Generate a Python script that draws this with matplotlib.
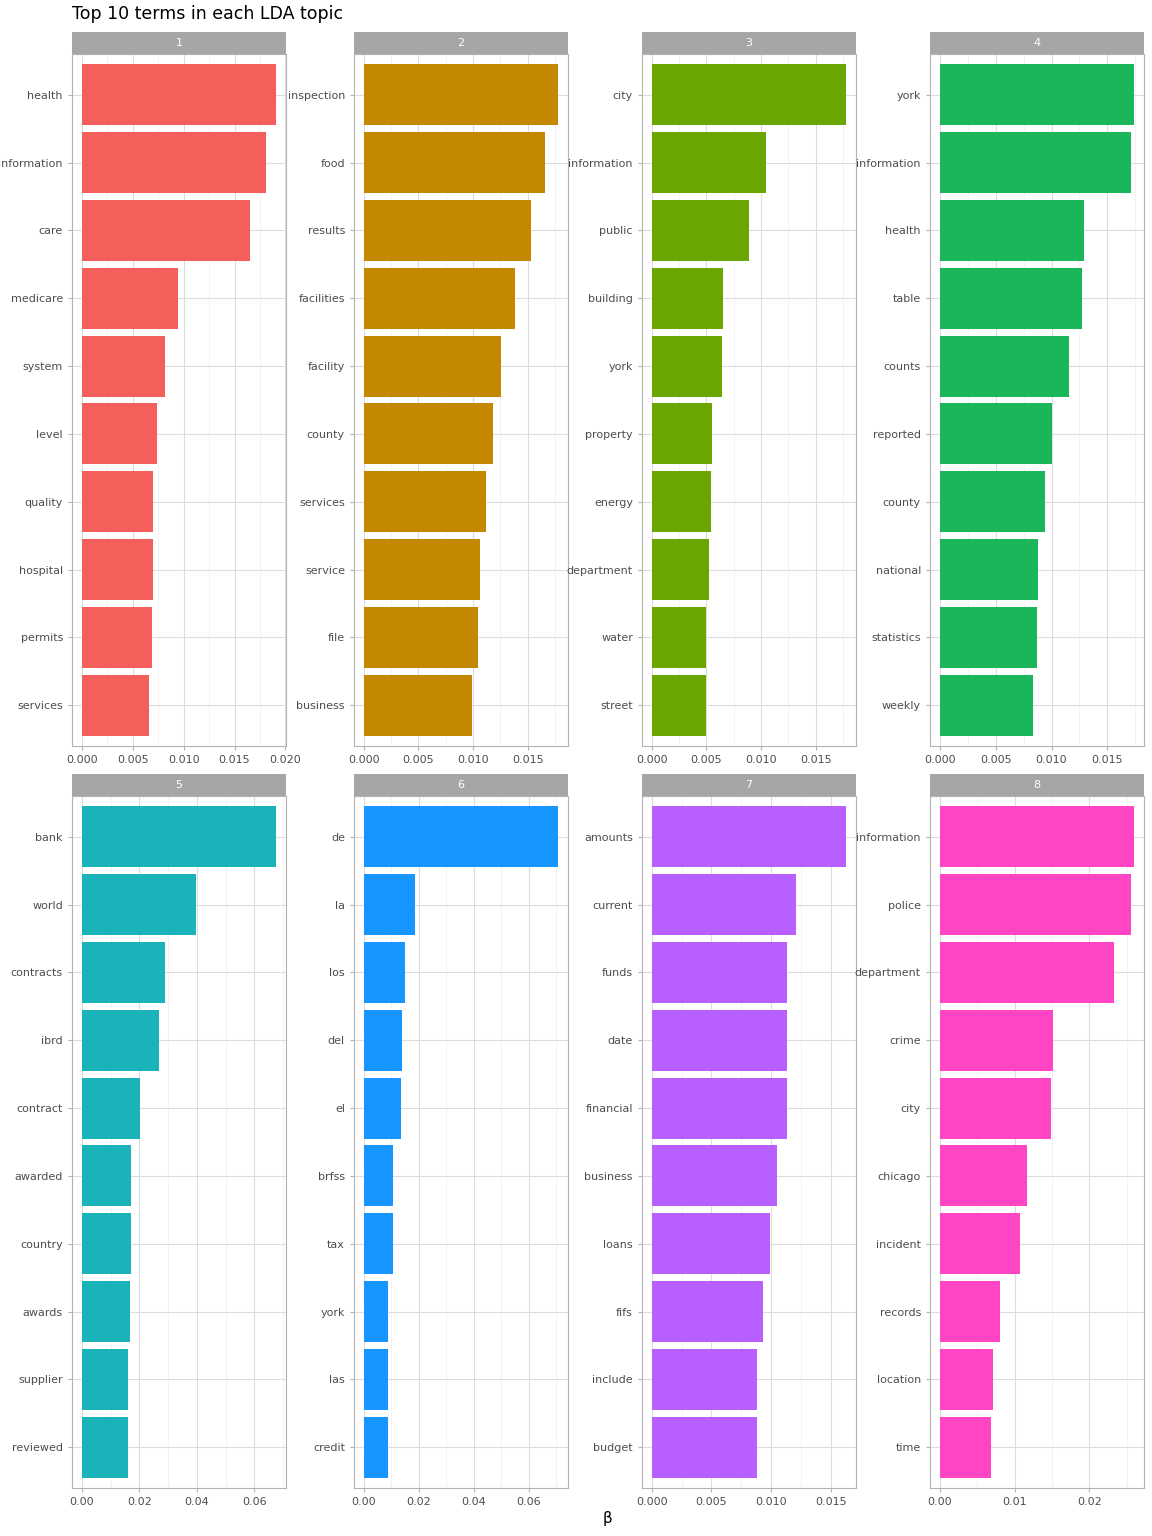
import matplotlib
matplotlib.use("Agg")
import matplotlib.pyplot as plt
import numpy as np

topics = ["1", "2", "3", "4", "5", "6", "7", "8"]
terms = [
    ["health", "information", "care", "medicare", "system", "level", "quality", "hospital", "permits", "services"],
    ["inspection", "food", "results", "facilities", "facility", "county", "services", "service", "file", "business"],
    ["city", "information", "public", "building", "york", "property", "energy", "department", "water", "street"],
    ["york", "information", "health", "table", "counts", "reported", "county", "national", "statistics", "weekly"],
    ["bank", "world", "contracts", "ibrd", "contract", "awarded", "country", "awards", "supplier", "reviewed"],
    ["de", "la", "los", "del", "el", "brfss", "tax", "york", "las", "credit"],
    ["amounts", "current", "funds", "date", "financial", "business", "loans", "fifs", "include", "budget"],
    ["information", "police", "department", "crime", "city", "chicago", "incident", "records", "location", "time"],
]
betas = [
    [0.0191, 0.0181, 0.0165, 0.0095, 0.0082, 0.0074, 0.0070, 0.0070, 0.0069, 0.0066],
    [0.0178, 0.0166, 0.0153, 0.0138, 0.0126, 0.0118, 0.0112, 0.0106, 0.0105, 0.0099],
    [0.0178, 0.0105, 0.0089, 0.0065, 0.0064, 0.0055, 0.0054, 0.0052, 0.0050, 0.0050],
    [0.0174, 0.0171, 0.0129, 0.0127, 0.0116, 0.0100, 0.0094, 0.0088, 0.0087, 0.0083],
    [0.0676, 0.0397, 0.0290, 0.0269, 0.0203, 0.0172, 0.0172, 0.0166, 0.0162, 0.0162],
    [0.0708, 0.0188, 0.0152, 0.0141, 0.0134, 0.0105, 0.0105, 0.0087, 0.0087, 0.0087],
    [0.0163, 0.0121, 0.0113, 0.0113, 0.0113, 0.0105, 0.0099, 0.0093, 0.0088, 0.0088],
    [0.0260, 0.0256, 0.0233, 0.0151, 0.0149, 0.0116, 0.0107, 0.0081, 0.0071, 0.0069],
]
colors = ["#F45F5C", "#C38800", "#6BA600", "#1CB65A", "#1BB3BA", "#1796FF", "#B760FF", "#FF45C3"]
major_steps = [0.005, 0.005, 0.005, 0.005, 0.02, 0.02, 0.005, 0.01]
tick_fmt = ["%.3f"] * 4 + ["%.2f"] * 2 + ["%.3f", "%.2f"]

W, H = 1152, 1536
fig = plt.figure(figsize=(W / 100, H / 100), dpi=100)
lefts = [72, 354, 642, 930]
pw = 214
rows = [(54, 746, 32), (796, 1488, 774)]

for i in range(8):
    r, c = divmod(i, 4)
    top, bot, stop = rows[r]
    ax = fig.add_axes([lefts[c] / W, 1 - bot / H, pw / W, (bot - top) / H])
    vals = betas[i]
    n = len(vals)
    y = np.arange(n)[::-1]
    ax.barh(y, vals, height=0.9, color=colors[i], zorder=3)
    mx = max(vals)
    ax.set_xlim(-0.05 * mx, 1.05 * mx)
    ax.set_ylim(-0.6, n - 0.4)
    ax.set_yticks(y)
    ax.set_yticklabels(terms[i], fontsize=8, color="#4D4D4D")
    st = major_steps[i]
    mt = np.arange(0, 1.05 * mx, st)
    ax.set_xticks(mt)
    ax.set_xticklabels([tick_fmt[i] % v for v in mt], fontsize=8, color="#4D4D4D")
    ax.set_xticks(np.arange(st / 2, 1.05 * mx, st), minor=True)
    ax.grid(True, which="major", color="#DDDDDD", lw=0.8, zorder=0)
    ax.grid(True, which="minor", axis="x", color="#EEEEEE", lw=0.5, zorder=0)
    ax.tick_params(axis="both", which="both", length=3, color="#B3B3B3")
    ax.tick_params(axis="x", which="minor", length=0)
    for s in ax.spines.values():
        s.set_color("#B3B3B3")
        s.set_linewidth(0.8)
    sax = fig.add_axes([lefts[c] / W, 1 - top / H, pw / W, (top - stop) / H])
    sax.set_facecolor("#A6A6A6")
    sax.set_xticks([]); sax.set_yticks([])
    for s in sax.spines.values():
        s.set_visible(False)
    sax.text(0.5, 0.5, topics[i], ha="center", va="center", color="white", fontsize=8, transform=sax.transAxes)

fig.text(72 / W, 1 - 14 / H, "Top 10 terms in each LDA topic", fontsize=12.5, ha="left", va="center")
fig.text(607 / W, 1 - 1518 / H, "β", fontsize=11, ha="center", va="center")
fig.savefig("out.png", dpi=100)
